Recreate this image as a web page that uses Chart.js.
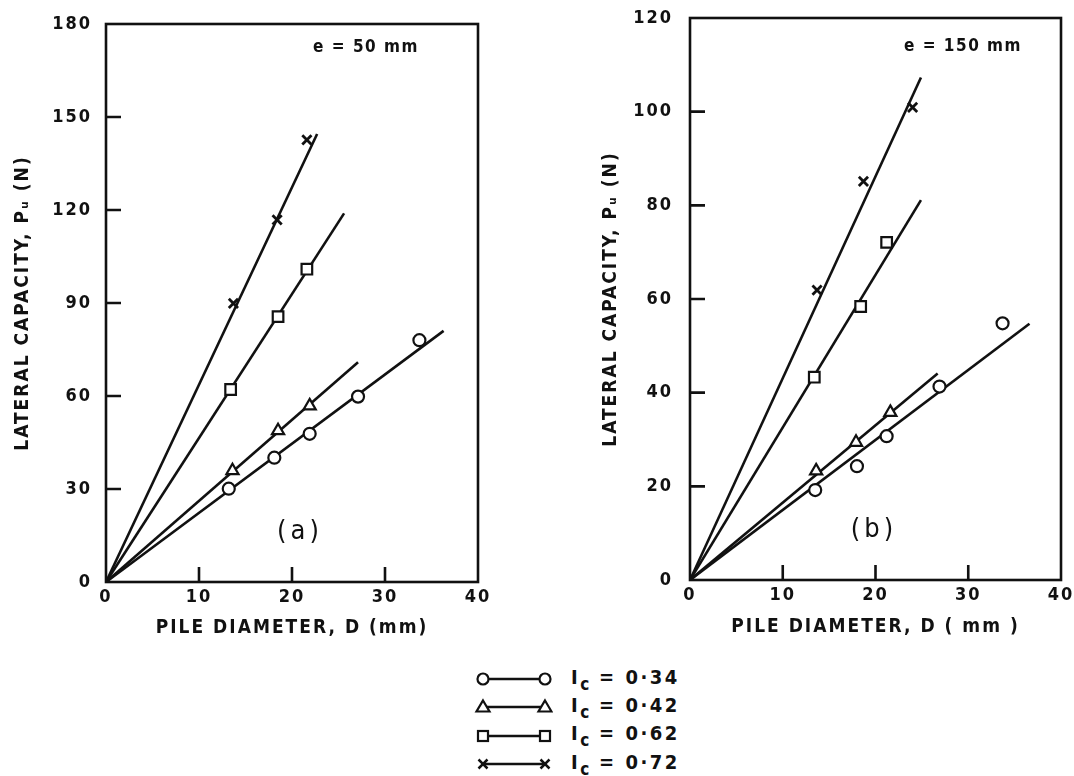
<!DOCTYPE html>
<html><head><meta charset="utf-8">
<script src="https://cdn.jsdelivr.net/npm/chart.js@4"></script>
<style>
body{margin:0;background:#fff;width:1074px;height:776px;overflow:hidden;position:relative;font-family:'DejaVu Sans Condensed','DejaVu Sans',sans-serif;}
#ca{position:absolute;left:0;top:0}
#cb{position:absolute;left:580px;top:0}
#legend{position:absolute;left:473px;top:665px;}
.row{height:28.3px;display:flex;align-items:center;font-weight:bold;font-size:20px;letter-spacing:2.5px;color:#111;white-space:nowrap}
.row svg{margin-right:18px;flex:none}
.row sub{font-size:17px;vertical-align:-6px;letter-spacing:1px}
</style></head><body>
<canvas id="ca" width="500" height="650"></canvas>
<canvas id="cb" width="494" height="650"></canvas>
<div id="legend"></div>
<script>
// ---- data ----
const xTicks = [0, 10, 20, 30, 40];
const legendLabels = ['0·34', '0·42', '0·62', '0·72'];

// (a) e = 50 mm
const a034D = [13.2, 18.1, 21.9, 27.1, 33.7];
const a034P = [30.1, 40.1, 47.8, 59.8, 78.0];
const a042D = [13.6, 18.5, 21.9];
const a042P = [35.9, 48.8, 56.8];
const a062D = [13.4, 18.5, 21.6];
const a062P = [62.1, 85.6, 100.9];
const a072D = [13.7, 18.4, 21.6];
const a072P = [89.9, 116.8, 142.6];
const a034Fit = [36.3, 81.0];
const a042Fit = [27.1, 70.9];
const a062Fit = [25.6, 118.9];
const a072Fit = [22.7, 144.5];

// (b) e = 150 mm
const b034D = [13.5, 18.0, 21.2, 26.9, 33.7];
const b034P = [19.2, 24.3, 30.7, 41.3, 54.8];
const b042D = [13.6, 17.9, 21.6];
const b042P = [23.3, 29.4, 35.8];
const b062D = [13.4, 18.4, 21.2];
const b062P = [43.3, 58.4, 72.1];
const b072D = [13.7, 18.7, 24.0];
const b072P = [61.9, 85.1, 100.9];
const b034Fit = [36.6, 54.7];
const b042Fit = [26.7, 44.1];
const b062Fit = [24.9, 81.1];
const b072Fit = [24.9, 107.3];

// ---- chart building ----
const INK = '#111';
const FONT = "'DejaVu Sans Condensed','DejaVu Sans',sans-serif";
const styles = ['circle', 'triangle', 'rect', 'crossRot'];
const radii = [6, 7, 7.5, 6.5];

function ptsDs(D, P, k) {
  return {data: D.map((d, i) => ({x: d, y: P[i]})), showLine: false,
    pointStyle: styles[k], pointRadius: radii[k], pointBorderWidth: k === 3 ? 2.8 : 2.2,
    pointBorderColor: INK, pointBackgroundColor: '#fff'};
}
function lineDs(fit) {
  return {data: [{x: 0, y: 0}, {x: fit[0], y: fit[1]}], showLine: true,
    pointRadius: 0, borderColor: INK, borderWidth: 2.6};
}

const spacing = {
  id: 'spacing',
  beforeLayout(c) { c.ctx.letterSpacing = '2px'; },
  beforeDraw(c) { c.ctx.letterSpacing = '2px'; }
};

function frameTicks(extra) {
  return {
    id: 'frameTicks',
    afterDatasetsDraw(c) {
      const {ctx, chartArea: {left, right, top, bottom}, scales: {x, y}} = c;
      ctx.save();
      ctx.strokeStyle = INK; ctx.lineWidth = 2.6;
      ctx.strokeRect(left, top, right - left, bottom - top);
      ctx.beginPath();
      x.ticks.forEach(t => {
        if (t.value > x.min && t.value < x.max) {
          const px = x.getPixelForValue(t.value);
          ctx.moveTo(px, bottom); ctx.lineTo(px, bottom - 15);
        }
      });
      y.ticks.forEach(t => {
        if (t.value > y.min && t.value < y.max) {
          const py = y.getPixelForValue(t.value);
          ctx.moveTo(left, py); ctx.lineTo(left + 15, py);
        }
      });
      ctx.stroke();
      ctx.fillStyle = INK;
      ctx.letterSpacing = '1.5px';
      ctx.textAlign = 'center'; ctx.textBaseline = 'middle';
      ctx.font = 'bold 17px ' + FONT;
      ctx.fillText(extra.note, extra.noteX, extra.noteY);
      ctx.letterSpacing = '4px';
      ctx.font = '27px ' + FONT;
      ctx.fillText(extra.tag, extra.tagX, extra.tagY);
      ctx.restore();
    }
  };
}

function makeChart(id, sets, ymax, ystep, opts) {
  const tickFont = {family: FONT, size: 18, weight: 'bold'};
  const titleFont = {family: FONT, size: 19, weight: 'bold'};
  return new Chart(document.getElementById(id), {
    type: 'scatter',
    data: {datasets: sets},
    options: {
      responsive: false, animation: false,
      layout: {padding: {left: 0, right: opts.padRight, top: opts.top, bottom: 0}},
      plugins: {legend: {display: false}, tooltip: {enabled: false}},
      scales: {
        x: {type: 'linear', min: 0, max: 40,
          afterBuildTicks(s) { s.ticks = xTicks.map(v => ({value: v})); },
          ticks: {padding: 5, color: INK, font: tickFont},
          grid: {display: false, drawTicks: false}, border: {display: false},
          title: {display: true, text: opts.xTitle, color: INK, font: titleFont, padding: {top: 0, bottom: opts.xTitlePad}},
          afterFit(s) { s.height = opts.xH; s.paddingLeft = 0; s.paddingRight = 0; }},
        y: {type: 'linear', min: 0, max: ymax,
          ticks: {stepSize: ystep, padding: opts.yTickPad, color: INK, font: tickFont},
          grid: {display: false, drawTicks: false}, border: {display: false},
          title: {display: true, text: 'LATERAL CAPACITY, Pᵤ (N)', color: INK, font: titleFont, padding: {top: opts.yTitlePad, bottom: 0}},
          afterFit(s) { s.width = opts.yW; s.paddingTop = 0; s.paddingBottom = 0; }}
      }
    },
    plugins: [spacing, frameTicks(opts.extra)]
  });
}

makeChart('ca', [
  ptsDs(a034D, a034P, 0), ptsDs(a042D, a042P, 1), ptsDs(a062D, a062P, 2), ptsDs(a072D, a072P, 3),
  lineDs(a034Fit), lineDs(a042Fit), lineDs(a062Fit), lineDs(a072Fit)
], 180, 30, {padRight: 22, top: 24, xH: 68, yW: 106, yTickPad: 14, xTitlePad: 11, yTitlePad: 12,
  xTitle: 'PILE DIAMETER, D (mm)',
  extra: {note: 'e = 50 mm', noteX: 366, noteY: 48, tag: '(a)', tagX: 300, tagY: 532}});

makeChart('cb', [
  ptsDs(b034D, b034P, 0), ptsDs(b042D, b042P, 1), ptsDs(b062D, b062P, 2), ptsDs(b072D, b072P, 3),
  lineDs(b034Fit), lineDs(b042Fit), lineDs(b062Fit), lineDs(b072Fit)
], 120, 20, {padRight: 13, top: 18, xH: 70, yW: 110, yTickPad: 17, xTitlePad: 12, yTitlePad: 20,
  xTitle: 'PILE DIAMETER, D ( mm )',
  extra: {note: 'e = 150 mm', noteX: 383, noteY: 47, tag: '(b)', tagX: 294, tagY: 530}});

// ---- legend ----
const markerSvg = [
  (x) => `<circle cx="${x}" cy="10" r="5.5" fill="#fff" stroke="${INK}" stroke-width="2.2"/>`,
  (x) => `<polygon points="${x},3.5 ${x+6.5},14.5 ${x-6.5},14.5" fill="#fff" stroke="${INK}" stroke-width="2.2"/>`,
  (x) => `<rect x="${x-5}" y="5" width="10" height="10" fill="#fff" stroke="${INK}" stroke-width="2.2"/>`,
  (x) => `<path d="M${x-4.5} 5.5 L${x+4.5} 14.5 M${x+4.5} 5.5 L${x-4.5} 14.5" stroke="${INK}" stroke-width="2.5"/>`
];
const leg = document.getElementById('legend');
legendLabels.forEach((lab, k) => {
  const row = document.createElement('div');
  row.className = 'row';
  row.innerHTML = `<svg width="80" height="20"><line x1="10" y1="10" x2="72" y2="10" stroke="${INK}" stroke-width="2.6"/>${markerSvg[k](10)}${markerSvg[k](72)}</svg><span>I<sub>c</sub> = ${lab}</span>`;
  leg.appendChild(row);
});
</script>
</body></html>
